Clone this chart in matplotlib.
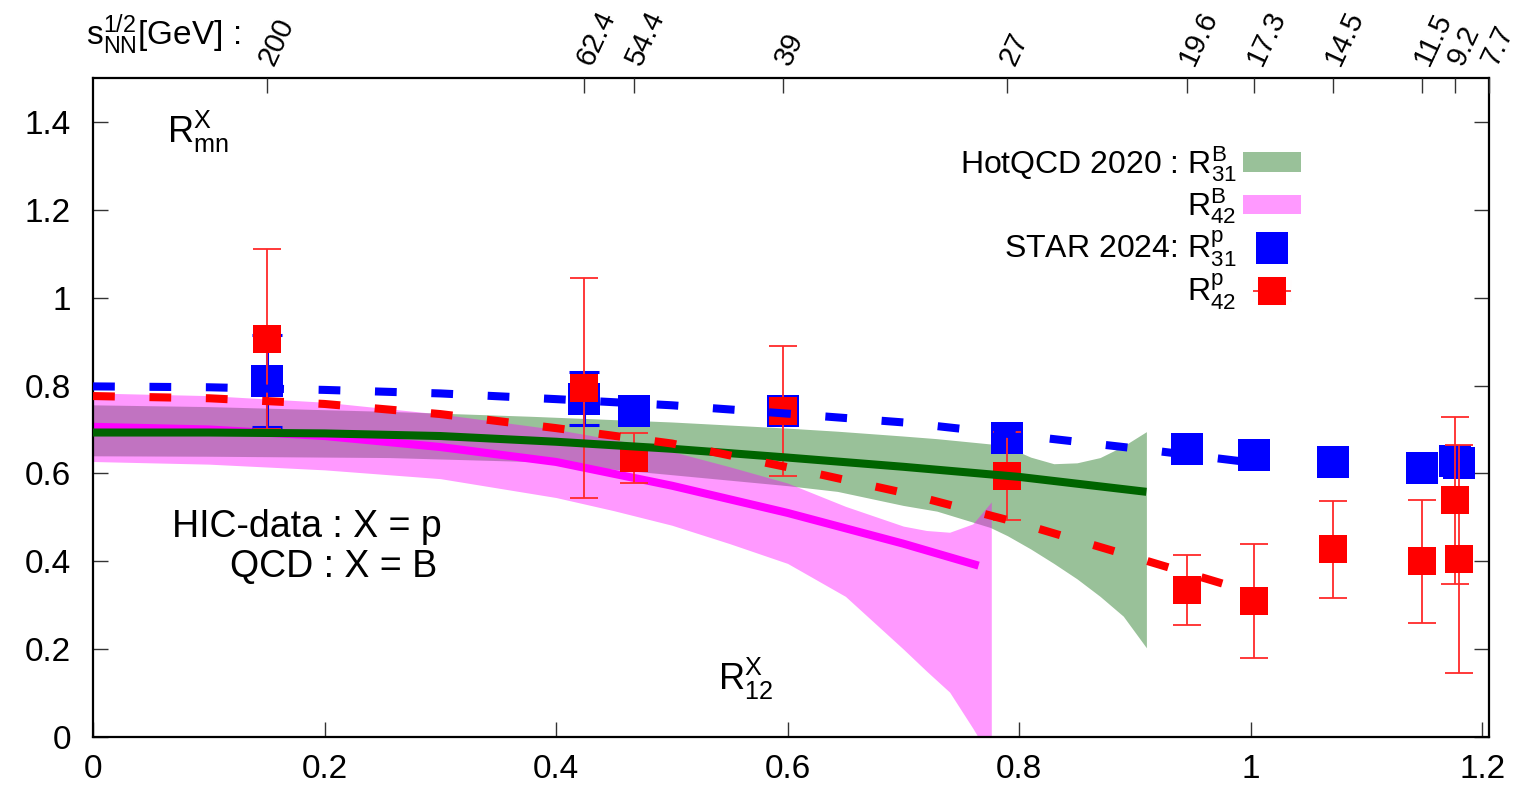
import numpy as np
import matplotlib
matplotlib.use("Agg")
import matplotlib.pyplot as plt
from matplotlib.patches import Patch
from matplotlib.lines import Line2D
from matplotlib.legend_handler import HandlerErrorbar

plt.rcParams['font.family'] = ['Liberation Sans', 'DejaVu Sans']
plt.rcParams['mathtext.fontset'] = 'custom'
plt.rcParams['mathtext.rm'] = 'Liberation Sans'
plt.rcParams['mathtext.it'] = 'Liberation Sans:italic'

# ── top axis: collision energies ─────────────────────────────────────────────
energy_labels = ['200', '62.4', '54.4', '39', '27', '19.6', '17.3', '14.5', '11.5', '9.2', '7.7']
energy_pos = [0.150, 0.424, 0.467, 0.596, 0.790, 0.945, 1.003, 1.071, 1.148, 1.177, 1.206]

# ── STAR 2024 proton cumulant ratios ─────────────────────────────────────────
star_x = [0.150, 0.424, 0.467, 0.596, 0.790, 0.945, 1.003, 1.071, 1.148, 1.177, 1.180]
star_r31 = [0.810, 0.770, 0.743, 0.743, 0.680, 0.655, 0.641, 0.625, 0.612, 0.628, 0.624]
star_r31_err = [0.105, 0.060, 0.020, 0.020, 0.020, 0.020, 0.020, 0.020, 0.020, 0.020, 0.020]
star_r42 = [0.905, 0.795, 0.635, 0.742, 0.595, 0.335, 0.310, 0.427, 0.400, 0.539, 0.405]
star_r42_err = [0.205, 0.250, 0.058, 0.147, 0.100, 0.080, 0.130, 0.110, 0.140, 0.190, 0.260]

# ── HotQCD 2020 bands ────────────────────────────────────────────────────────
r31b_x = [0, 0.1, 0.256, 0.378, 0.5, 0.6, 0.643, 0.7, 0.729, 0.775, 0.79, 0.81, 0.83, 0.85, 0.87, 0.89, 0.91]
r31b_hi = [0.756, 0.752, 0.741, 0.730, 0.717, 0.703, 0.696, 0.685, 0.679, 0.667, 0.660, 0.637, 0.622, 0.624, 0.636, 0.662, 0.695]
r31b_lo = [0.640, 0.639, 0.636, 0.627, 0.597, 0.572, 0.559, 0.527, 0.514, 0.477, 0.458, 0.428, 0.395, 0.360, 0.320, 0.275, 0.203]

r42b_x = [0, 0.1, 0.2, 0.3, 0.4, 0.45, 0.5, 0.55, 0.6, 0.65, 0.7, 0.72, 0.74, 0.76, 0.776]
r42b_hi = [0.783, 0.777, 0.762, 0.735, 0.700, 0.677, 0.650, 0.615, 0.578, 0.525, 0.480, 0.470, 0.466, 0.485, 0.535]
r42b_lo = [0.627, 0.621, 0.608, 0.588, 0.545, 0.515, 0.482, 0.440, 0.395, 0.320, 0.200, 0.150, 0.102, 0.020, -0.050]

# central lines
r31c_x = [0, 0.1, 0.2, 0.3, 0.4, 0.5, 0.6, 0.7, 0.8, 0.91]
r31c_y = [0.693, 0.693, 0.691, 0.685, 0.672, 0.656, 0.636, 0.615, 0.592, 0.558]
r42c_x = [0, 0.1, 0.2, 0.3, 0.4, 0.5, 0.6, 0.7, 0.765]
r42c_y = [0.706, 0.700, 0.685, 0.660, 0.626, 0.572, 0.510, 0.440, 0.390]

# dashed curves through the data
fit31_x = [0, 0.1, 0.2, 0.3, 0.4, 0.5, 0.6, 0.7, 0.8, 0.9, 1.0, 1.02]
fit31_y = [0.798, 0.796, 0.790, 0.782, 0.769, 0.755, 0.736, 0.716, 0.687, 0.657, 0.625, 0.619]
fit42_x = [0, 0.1, 0.2, 0.3, 0.4, 0.5, 0.6, 0.7, 0.8, 0.9, 1.0]
fit42_y = [0.776, 0.771, 0.758, 0.735, 0.703, 0.668, 0.614, 0.556, 0.487, 0.409, 0.330]

y_ticks = [0, 0.2, 0.4, 0.6, 0.8, 1.0, 1.2, 1.4]
y_labels = ['0', '0.2', '0.4', '0.6', '0.8', '1', '1.2', '1.4']
x_ticks = [0, 0.2, 0.4, 0.6, 0.8, 1.0, 1.2]
x_labels = ['0', '0.2', '0.4', '0.6', '0.8', '1', '1.2']

fig = plt.figure(figsize=(15.16, 8.0), dpi=100)
ax = fig.add_axes([0.0614, 0.0788, 0.9208, 0.8237])

# bands
ax.fill_between(r31b_x, r31b_lo, r31b_hi, color='darkgreen', alpha=0.4, lw=0, zorder=1)
ax.fill_between(r42b_x, r42b_lo, r42b_hi, color='magenta', alpha=0.4, lw=0, zorder=1.1)

ax.plot(r42c_x, r42c_y, color='magenta', lw=5.8, solid_capstyle='butt', zorder=2)

# data: error bars, then squares
ax.errorbar(star_x, star_r31, yerr=star_r31_err, fmt='none', ecolor='blue',
            elinewidth=2.2, capsize=11, capthick=2.2, zorder=3)
ax.plot(star_x, star_r31, ls='none', marker='s', ms=23.5, mew=0, color='blue', zorder=3.05)
ax.errorbar(star_x, star_r42, yerr=star_r42_err, fmt='none', ecolor='#ff2a2a',
            elinewidth=1.3, capsize=10, capthick=1.3, zorder=3.1)
ax.plot(star_x, star_r42, ls='none', marker='s', ms=20.5, mew=0, color='red', zorder=3.15)

ax.plot(r31c_x, r31c_y, color='darkgreen', lw=5.8, solid_capstyle='butt', zorder=4)
ax.plot(fit42_x, fit42_y, color='red', lw=5.8, dashes=(2.7, 4.3), zorder=4.1)
ax.plot(fit31_x, fit31_y, color='blue', lw=5.8, dashes=(2.7, 4.3), zorder=4.2)

ax.set_xlim(0, 1.206)
ax.set_ylim(0, 1.5)
ax.set_xticks(x_ticks)
ax.set_xticklabels(x_labels)
ax.set_yticks(y_ticks)
ax.set_yticklabels(y_labels)
ax.tick_params(axis='both', direction='in', length=11, width=1, color='#333333', labelsize=24)
ax.tick_params(axis='y', right=True, pad=16)
ax.tick_params(axis='x', top=False, pad=12)
for s in ax.spines.values():
    s.set_linewidth(1.6)

# top axis
ax2 = ax.twiny()
ax2.set_xlim(ax.get_xlim())
ax2.set_xticks(energy_pos)
ax2.set_xticklabels(energy_labels)
ax2.tick_params(axis='x', direction='in', length=11, width=1, color='#333333', labelsize=21, pad=10)
for lbl in ax2.get_xticklabels():
    lbl.set_rotation(65)
    lbl.set_rotation_mode('anchor')
    lbl.set_ha('left')
    lbl.set_va('center')
for s in ax2.spines.values():
    s.set_visible(False)

fig.text(0.057, 0.944, r'$\mathregular{s_{NN}^{1/2}}$[GeV] :', fontsize=24)

ax.text(0.064, 1.353, r'$\mathregular{R^{X}_{mn}}$', fontsize=26)
ax.text(0.540, 0.107, r'$\mathregular{R^{X}_{12}}$', fontsize=26)
ax.text(0.301, 0.478, 'HIC-data : X = p', fontsize=27, ha='right', va='center')
ax.text(0.297, 0.388, 'QCD : X = B', fontsize=27, ha='right', va='center')

# legend
h_green = Patch(facecolor='darkgreen', alpha=0.4, edgecolor='none')
h_pink = Patch(facecolor='magenta', alpha=0.4, edgecolor='none')
h_blue = Line2D([], [], ls='none', marker='s', ms=23.5, mew=0, color='blue')
h_red = ax.errorbar([np.nan], [np.nan], xerr=[0.01], fmt='s', color='red', ms=20.5,
                    mec='red', mew=0.01, ecolor='#ff2a2a', elinewidth=1.3,
                    capsize=8, capthick=1.3)
leg = ax.legend([h_green, h_pink, h_blue, h_red],
                [r'HotQCD 2020 : $\mathregular{R^{B}_{31}}$', r'$\mathregular{R^{B}_{42}}$',
                 r'STAR 2024: $\mathregular{R^{p}_{31}}$', r'$\mathregular{R^{p}_{42}}$'],
                loc='upper right', bbox_to_anchor=(0.865, 0.90), frameon=False,
                markerfirst=False, fontsize=23, handlelength=1.8, handleheight=0.55,
                handletextpad=0.2, labelspacing=0.08, borderpad=0, borderaxespad=0,
                handler_map={type(h_red): HandlerErrorbar(xerr_size=0.6)})

fig.savefig('out.png', dpi=100)
